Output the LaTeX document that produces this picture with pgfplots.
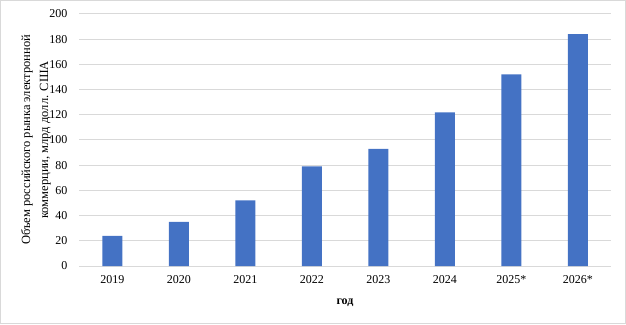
\documentclass[border=0pt]{standalone}
\usepackage{fontspec}
\setmainfont{Liberation Serif}
\usepackage{pgfplots}
\pgfplotsset{compat=1.18}
\definecolor{barblue}{HTML}{4472C4}
\definecolor{gridgray}{HTML}{D9D9D9}
\begin{document}
\begin{tikzpicture}[x=1pt,y=1pt]
\begin{axis}[
  at={(79pt,58pt)}, anchor=south west,
  scale only axis, width=532pt, height=252pt,
  ybar, bar width=20pt,
  xmin=-0.5, xmax=7.5, ymin=0, ymax=200,
  xtick={0,1,2,3,4,5,6,7},
  xticklabels={2019,2020,2021,2022,2023,2024,2025*,2026*},
  ytick={0,20,...,200},
  axis x line*=bottom, axis y line*=left,
  x axis line style={gridgray, line width=1pt, -},
  y axis line style={draw=none},
  ymajorgrids, grid style={gridgray, line width=1pt},
  major tick length=0pt,
  tick label style={font=\fontsize{12}{13}\selectfont},
  /pgf/number format/assume math mode=true,
  yticklabel style={xshift=-8pt},
  xticklabel style={yshift=-6pt},
  xlabel={\textbf{год}},
  xlabel style={font=\fontsize{12}{13}\selectfont, yshift=-8pt},
  ylabel style={font=\fontsize{12.5}{18}\selectfont, align=center,
    at={(axis description cs:-0.0808,0.5)}, anchor=center},
  ylabel={Объем российского рынка электронной\\коммерции, млрд долл. США},
  clip=false,
]
\addplot[fill=barblue, draw=none] coordinates {(0,24) (1,35) (2,52) (3,79) (4,93) (5,122) (6,152) (7,184)};
\end{axis}
\pgfresetboundingbox
\path[use as bounding box, draw=gridgray, line width=1.2pt] (0.6,0.6) rectangle (625.4,323.4);
\end{tikzpicture}
\end{document}
